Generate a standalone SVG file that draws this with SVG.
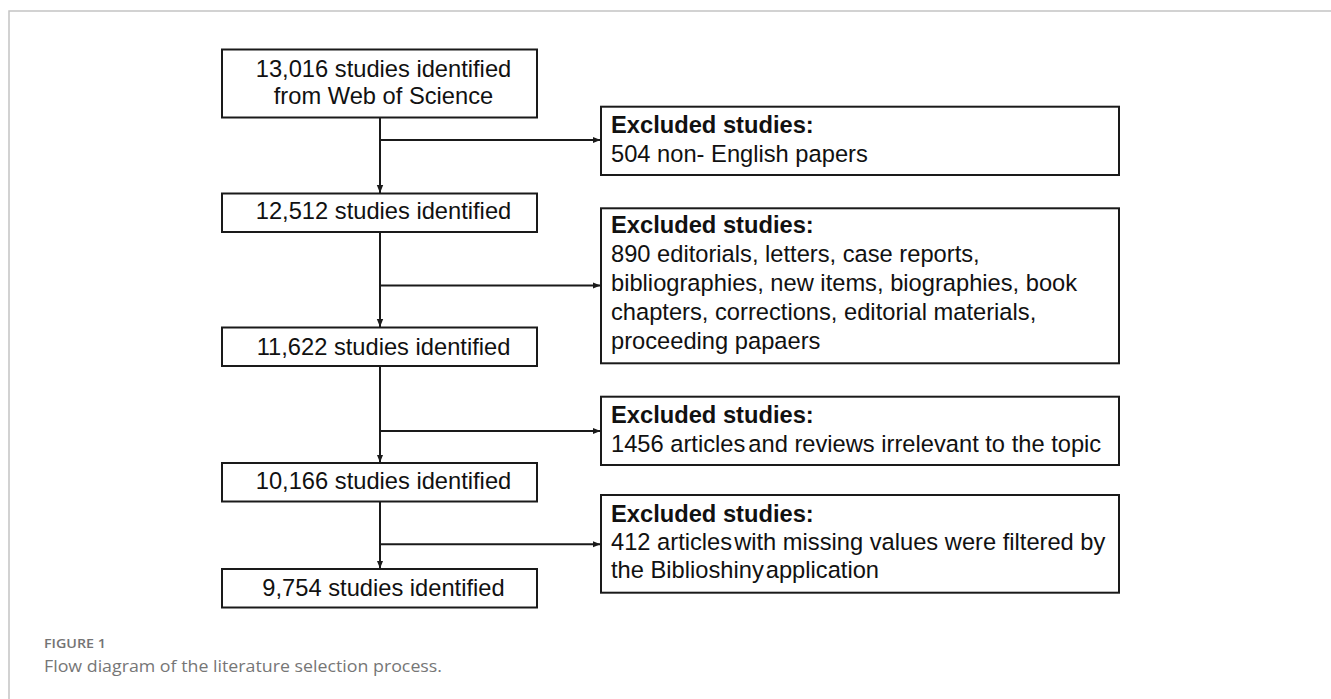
<svg xmlns="http://www.w3.org/2000/svg" width="1331" height="699" viewBox="0 0 1331 699">
<style>
.box{fill:#ffffff;stroke:#1a1a1a;stroke-width:2}
.t{font-family:"Liberation Sans",Arial,sans-serif;font-size:23.7px;fill:#111111}
.c{text-anchor:middle}
.b{font-weight:bold}
.con{fill:none;stroke:#1a1a1a;stroke-width:2}
.cap1{font-family:"Open Sans",Lato,sans-serif;font-weight:600;font-size:13px;fill:#747474}
.cap2{font-family:"Open Sans",Lato,sans-serif;font-size:15.5px;fill:#767676}
</style>
<defs>
<marker id="ah" markerUnits="userSpaceOnUse" markerWidth="9" markerHeight="8" viewBox="0 0 9 8" refX="8" refY="4" orient="auto">
<path d="M0,0.8 L8,4 L0,7.2 Z" fill="#1a1a1a"/>
</marker>
</defs>
<rect x="0" y="0" width="1331" height="699" fill="#ffffff"/>
<path d="M9,699 L9,11 L1331,11" fill="none" stroke="#c4c4c4" stroke-width="1.5"/>

<g id="connectors">
<line class="con" x1="380" y1="117.5" x2="380" y2="193" marker-end="url(#ah)"/>
<line class="con" x1="380" y1="140" x2="600.5" y2="140" marker-end="url(#ah)"/>
<line class="con" x1="380" y1="232" x2="380" y2="327" marker-end="url(#ah)"/>
<line class="con" x1="380" y1="285.5" x2="600.5" y2="285.5" marker-end="url(#ah)"/>
<line class="con" x1="380" y1="366" x2="380" y2="462.5" marker-end="url(#ah)"/>
<line class="con" x1="380" y1="431" x2="600.5" y2="431" marker-end="url(#ah)"/>
<line class="con" x1="380" y1="501.5" x2="380" y2="568.5" marker-end="url(#ah)"/>
<line class="con" x1="380" y1="544.3" x2="600.5" y2="544.3" marker-end="url(#ah)"/>
</g>

<g id="n1">
<rect class="box" x="222" y="49.5" width="315" height="68"/>
<text class="t c" x="383.5" y="76.7">13,016 studies identified</text>
<text class="t c" x="383.5" y="104">from Web of Science</text>
</g>
<g id="n2">
<rect class="box" x="222" y="193.5" width="315" height="38.5"/>
<text class="t c" x="383.5" y="219.3">12,512 studies identified</text>
</g>
<g id="n3">
<rect class="box" x="222" y="327.5" width="315" height="38.5"/>
<text class="t c" x="383.5" y="355">11,622 studies identified</text>
</g>
<g id="n4">
<rect class="box" x="222" y="463" width="315" height="38.5"/>
<text class="t c" x="383.5" y="489.3">10,166 studies identified</text>
</g>
<g id="n5">
<rect class="box" x="222" y="569" width="315" height="38.5"/>
<text class="t c" x="383.5" y="595.7">9,754 studies identified</text>
</g>

<g id="e1">
<rect class="box" x="601" y="106.7" width="518" height="68.3"/>
<text class="t b" x="611" y="133.3">Excluded studies:</text>
<text class="t" x="611" y="161.7">504 non- English papers</text>
</g>
<g id="e2">
<rect class="box" x="601" y="208.3" width="518" height="155"/>
<text class="t b" x="611" y="233.3">Excluded studies:</text>
<text class="t" x="611" y="262.3">890 editorials, letters, case reports,</text>
<text class="t" x="611" y="291.4">bibliographies, new items, biographies, book</text>
<text class="t" x="611" y="320.3">chapters, corrections, editorial materials,</text>
<text class="t" x="611" y="349">proceeding papaers</text>
</g>
<g id="e3">
<rect class="box" x="601" y="396.7" width="518" height="68.3"/>
<text class="t b" x="611" y="423.3">Excluded studies:</text>
<text class="t" x="611" y="451.7">1456 articles<tspan dx="3">and reviews irrelevant to the topic</tspan></text>
</g>
<g id="e4">
<rect class="box" x="601" y="495" width="518" height="97.7"/>
<text class="t b" x="611" y="521.7">Excluded studies:</text>
<text class="t" x="611" y="550">412 articles<tspan dx="2">with missing values were filtered by</tspan></text>
<text class="t" x="611" y="578.3">the Biblioshiny<tspan dx="2">application</tspan></text>
</g>

<g id="caption">
<text class="cap1" x="44" y="647.7" textLength="62" lengthAdjust="spacingAndGlyphs">FIGURE 1</text>
<text class="cap2" x="44" y="671.7" textLength="398" lengthAdjust="spacingAndGlyphs">Flow diagram of the literature selection process.</text>
</g>
</svg>
